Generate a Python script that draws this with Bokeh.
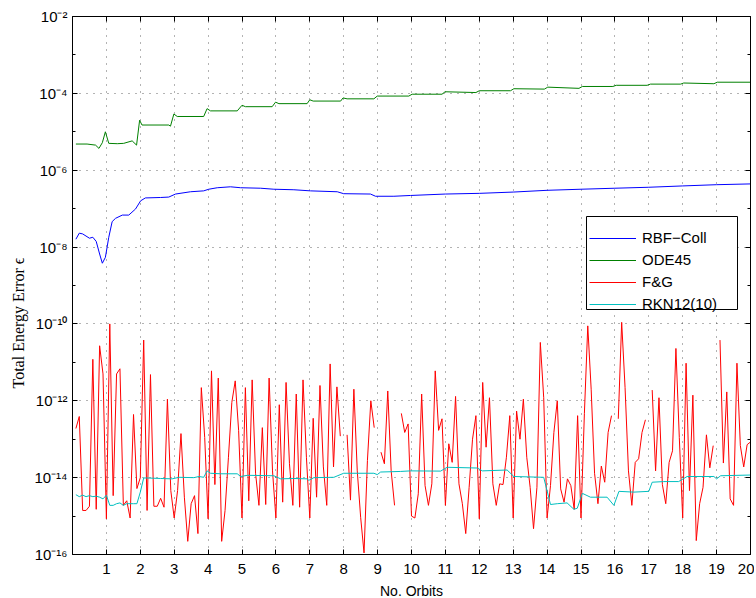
import math
from bokeh.plotting import figure
from bokeh.models import (LogAxis, LinearAxis, FixedTicker, Legend, LegendItem,
                          CustomJSTickFormatter, Title, BoxAnnotation)
from bokeh.embed import file_html
from bokeh.resources import INLINE

nan = float("nan")

# ---------------- data ----------------
x_ticks = list(range(1, 21))
y_major = [1e-16, 1e-14, 1e-12, 1e-10, 1e-8, 1e-6, 1e-4, 1e-2]
y_minor = [1e-15, 1e-13, 1e-11, 1e-9, 1e-7, 1e-5, 1e-3]

rbf_x = [0.1, 0.2, 0.3, 0.5, 0.6, 0.7, 0.8, 0.88, 0.97, 1.07, 1.17, 1.27, 1.47, 1.66,
         1.86, 2.01, 2.15, 2.6, 2.84, 3.04, 3.48, 3.87, 4.02, 4.27, 4.66, 4.96, 5.55,
         5.94, 6.53, 7.02, 7.81, 8.0, 8.79, 8.94, 9.48, 9.97, 11, 12, 13, 14, 15, 16,
         17, 18, 19, 20]
rbf_y = [1.6e-8, 2.3e-8, 2.2e-8, 1.7e-8, 1.8e-8, 1.4e-8, 6.6e-9, 3.8e-9, 5.4e-9, 1.8e-8,
         4.6e-8, 5.6e-8, 6.8e-8, 6.8e-8, 9.8e-8, 1.6e-7, 1.9e-7, 1.95e-7, 2.0e-7, 2.4e-7,
         2.75e-7, 2.9e-7, 3.2e-7, 3.5e-7, 3.7e-7, 3.5e-7, 3.4e-7, 3.2e-7, 3.1e-7, 2.9e-7,
         2.75e-7, 2.45e-7, 2.4e-7, 2.1e-7, 2.1e-7, 2.2e-7, 2.4e-7, 2.5e-7, 2.7e-7, 3.0e-7,
         3.2e-7, 3.4e-7, 3.6e-7, 3.9e-7, 4.2e-7, 4.4e-7]

ode_x = [0.1, 0.43, 0.68, 0.78, 0.88, 0.97, 1.07, 1.32, 1.51, 1.76, 1.89, 1.98, 2.05,
         2.84, 2.89, 2.99, 3.09, 3.87, 3.97, 4.07, 4.86, 5.0, 5.1, 5.89, 5.99, 6.09, 6.92,
         7.0, 7.1, 7.91, 7.98, 8.1, 8.89, 8.99, 9.92, 10.02, 10.9, 10.99, 11.9, 12.0,
         12.92, 13.02, 13.92, 14.02, 14.94, 15.04, 15.94, 16.04, 16.95, 17.05, 17.94,
         18.03, 18.92, 19.02, 20.0]
ode_y = [4.8e-6, 4.8e-6, 4.5e-6, 3.7e-6, 5.2e-6, 1.0e-5, 5.0e-6, 4.9e-6, 5.0e-6, 5.8e-6,
         4.5e-6, 2.0e-5, 1.5e-5, 1.5e-5, 1.4e-5, 2.9e-5, 2.5e-5, 2.5e-5, 4.0e-5, 3.5e-5,
         3.5e-5, 4.9e-5, 4.5e-5, 4.5e-5, 5.9e-5, 5.4e-5, 5.4e-5, 6.8e-5, 6.3e-5, 6.3e-5,
         7.6e-5, 7.2e-5, 7.2e-5, 8.5e-5, 8.5e-5, 9.5e-5, 9.5e-5, 1.1e-4, 1.05e-4, 1.17e-4,
         1.17e-4, 1.32e-4, 1.29e-4, 1.45e-4, 1.35e-4, 1.51e-4, 1.51e-4, 1.62e-4, 1.62e-4,
         1.74e-4, 1.74e-4, 1.86e-4, 1.78e-4, 1.95e-4, 1.95e-4]

fg_x = [round(0.1 * k, 1) for k in range(1, 201)]
fg_y = [
    1.9e-13, 3.9e-13, 1.4e-15, 1.4e-15, 1.8e-15, 1.2e-11, 1.5e-15, 2.7e-11, 5.0e-12, 8.5e-16,
    1.0e-10, 3.4e-15, 5.0e-12, 6.8e-12, 1.9e-15, 2.5e-15, 8.9e-16, 4.4e-13, 5.2e-15, 1.0e-14,
    3.8e-11, 1.4e-15, 4.8e-12, 1.8e-15, 1.8e-15, 2.9e-15, 1.7e-15, 1.1e-12, 4.6e-15, 8.9e-16,
    4.6e-15, 1.4e-13, 3.1e-15, 2.2e-16, 2.1e-15, 3.4e-15, 3.5e-16, 2.2e-12, 1.1e-13, 8.5e-16,
    6.0e-12, 6.6e-15, 3.9e-12, 2.2e-16, 1.4e-15, 3.4e-14, 9.1e-13, 3.3e-12, 1.7e-13, 8.9e-16,
    2.2e-12, 2.5e-15, 3.5e-12, 1.3e-14, 1.9e-15, 2.0e-13, 2.0e-15, 3.9e-12, 1.5e-14, 8.9e-16,
    7.9e-13, 2.3e-15, 3.0e-12, 2.3e-14, 1.9e-15, 1.5e-12, 1.7e-15, 3.5e-12, 3.4e-14, 8.9e-16,
    3.5e-13, 3.1e-15, 2.5e-12, 1.9e-14, 1.9e-15, 9.1e-12, 1.9e-14, 2.3e-12, 1.2e-13, nan,
    1.3e-13, 2.6e-15, 2.0e-12, 1.5e-14, 9.3e-16, 1.1e-16, 2.8e-14, 1.0e-12, 2.0e-13, nan,
    4.6e-14, 2.3e-14, 1.8e-12, 1.5e-14, 1.9e-15, nan, 4.7e-13, 1.5e-13, 2.5e-13, 1.0e-15,
    8.9e-16, 3.8e-15, 1.5e-12, 6.2e-15, 1.9e-15, 6.9e-15, 6.0e-12, 1.7e-13, 3.4e-13, 1.9e-15,
    7.6e-14, 2.5e-14, 1.3e-12, 6.9e-15, 2.1e-15, 3.5e-16, 5.6e-15, 1.0e-13, 4.1e-13, 8.5e-16,
    3.0e-12, 6.2e-14, 1.2e-12, 6.9e-15, 1.9e-15, 6.9e-15, 6.6e-15, 3.4e-14, 4.1e-13, 8.9e-16,
    5.4e-13, 1.0e-13, 1.1e-12, 3.4e-14, 5.6e-15, 4.7e-16, 5.6e-15, 3.3e-11, 1.2e-12, 8.9e-16,
    6.2e-15, 1.5e-13, 1.0e-12, 5.1e-15, 2.3e-15, 9.3e-15, 6.2e-15, 1.5e-15, 4.1e-13, 8.9e-16,
    4.6e-13, 8.9e-11, 2.0e-12, 1.3e-14, 2.1e-15, 2.0e-14, 7.6e-15, 1.5e-13, 4.1e-13, nan,
    3.4e-13, 1.1e-10, 2.2e-12, 1.5e-14, 1.9e-15, 2.5e-14, 3.1e-14, 1.5e-13, 3.2e-13, nan,
    1.9e-12, 1.5e-14, 1.2e-12, 6.6e-15, 2.1e-15, 2.5e-14, 5.0e-14, 2.3e-11, 1.1e-13, 8.9e-16,
    9.5e-12, 4.6e-15, 1.4e-12, 2.3e-16, 2.1e-15, 5.6e-15, 1.3e-13, 1.8e-14, 6.8e-14, nan,
    3.8e-11, 2.4e-14, 1.7e-12, 2.8e-15, 1.9e-15, 9.5e-12, 6.8e-14, 1.9e-14, 7.2e-14, 8.5e-14,
]

rkn_x = [0.1, 0.2, 0.3, 0.4, 0.5, 0.6, 0.7, 0.8, 0.9, 1.0, 1.1, 1.2, 1.3, 1.4, 1.5, 1.6,
         1.7, 1.8, 1.9, 2.0, 2.1, 2.2, 2.6, 2.94, 3.14, 3.58, 3.73, 3.87, 3.97, 4.07, 4.37,
         4.86, 4.96, 5.16, 5.94, 6.14, 6.53, 6.92, 6.97, 7.12, 7.71, 8.0, 8.89, 8.99, 9.09,
         9.68, 9.97, 10.86, 11.05, 11.94, 12.09, 12.82, 13.02, 13.9, 14.1, 14.3, 14.59,
         14.79, 14.89, 15.04, 15.28, 15.77, 15.97, 16.12, 16.56, 17.0, 17.1, 17.44, 17.88,
         18.13, 18.92, 19.0, 19.12, 20.0]
rkn_y = [3.6e-15, 3.2e-15, 3.5e-15, 3.2e-15, 3.4e-15, 3.2e-15, 3.3e-15, 3.1e-15, 2.8e-15,
         3.5e-15, 1.9e-15, 1.9e-15, 2.1e-15, 2.2e-15, 1.9e-15, 2.1e-15, 2.1e-15, 2.1e-15,
         2.1e-15, 4.2e-15, 9.8e-15, 9.8e-15, 9.5e-15, 9.3e-15, 1.02e-14, 1.0e-14, 1.07e-14,
         1.02e-14, 1.5e-14, 1.3e-14, 1.26e-14, 1.26e-14, 1.07e-14, 1.15e-14, 1.12e-14,
         9.3e-15, 9.5e-15, 9.3e-15, 8.5e-15, 1.0e-14, 1.02e-14, 1.3e-14, 1.3e-14, 1.2e-14,
         1.4e-14, 1.45e-14, 1.5e-14, 1.48e-14, 1.86e-14, 1.78e-14, 1.5e-14, 1.58e-14,
         1.07e-14, 1.02e-14, 2.0e-15, 2.1e-15, 2.2e-15, 1.5e-15, 1.6e-15, 3.9e-15, 3.1e-15,
         3.1e-15, 1.9e-15, 4.4e-15, 4.2e-15, 4.4e-15, 7.6e-15, 7.9e-15, 7.9e-15, 1.07e-14,
         1.07e-14, 9.3e-15, 1.12e-14, 1.17e-14]

series_names = ["RBF\u2212Coll", "ODE45", "F&G", "RKN12(10)"]
series_colors = ["#0000FF", "#008000", "#FF0000", "#00BFBF"]
y_title = "Total Energy Error \u03f5"
x_title = "No. Orbits"

# ---------------- figure ----------------
p = figure(frame_width=678, frame_height=538, x_range=(0, 20), y_range=(1e-16, 1e-2),
           y_axis_type="log", output_backend="svg", toolbar_location=None,
           min_border_left=72, min_border_right=4, min_border_top=16, min_border_bottom=44,
           background_fill_color="white", border_fill_color="white")
p.outline_line_color = "black"
p.outline_line_width = 1

xt = FixedTicker(ticks=x_ticks)
yt = FixedTicker(ticks=y_major, minor_ticks=y_minor)

fmt = CustomJSTickFormatter(code="""
const sup = {'-':'\u207b','0':'\u2070','1':'\u00b9','2':'\u00b2','3':'\u00b3','4':'\u2074',
             '5':'\u2075','6':'\u2076','7':'\u2077','8':'\u2078','9':'\u2079'};
const e = Math.round(Math.log10(tick));
return '10' + String(e).split('').map(c => sup[c]).join('');
""")

for ax in p.xaxis:
    ax.ticker = xt
    ax.axis_label = x_title
    ax.major_label_standoff = 9
    ax.axis_label_text_font = "Liberation Sans"
    ax.axis_label_text_font_size = "14px"
for ax in p.yaxis:
    ax.ticker = yt
    ax.formatter = fmt
    ax.major_label_standoff = 5

for ax in list(p.xaxis) + list(p.yaxis):
    ax.major_tick_in = 5
    ax.major_tick_out = 0
    ax.minor_tick_in = 3
    ax.minor_tick_out = 0
    ax.axis_line_color = "black"
    ax.major_tick_line_color = "black"
    ax.major_label_text_font = "Liberation Sans"
    ax.major_label_text_font_size = "15px"
    ax.major_label_text_color = "black"
    ax.axis_label_text_font_style = "normal"
    ax.axis_label_text_color = "black"
    ax.axis_label_standoff = 6
for ax in p.xaxis:
    ax.minor_tick_line_color = None
for ax in p.yaxis:
    ax.minor_tick_line_color = "black"

# y title in the left panel, placed a little below the axis centre like the reference
p.add_layout(Title(text=y_title, align="left", offset=166, standoff=10,
                   text_font="Liberation Serif", text_font_size="16px",
                   text_font_style="normal", text_color="black"), "left")

# mirrored tick marks on the top and right sides (no labels), like a boxed axes
blank = CustomJSTickFormatter(code="return '';")
top = LinearAxis(ticker=xt, formatter=blank, major_tick_in=5, major_tick_out=0,
                 minor_tick_line_color=None, major_label_standoff=0,
                 axis_line_color="black", major_tick_line_color="black")
p.add_layout(top, "above")
right = LogAxis(ticker=yt, formatter=blank, major_tick_in=5, major_tick_out=0,
                minor_tick_in=3, minor_tick_out=0, major_label_standoff=0,
                axis_line_color="black", major_tick_line_color="black",
                minor_tick_line_color="black")
p.add_layout(right, "right")

for g in (p.xgrid, p.ygrid):
    g.grid_line_color = "black"
    g.grid_line_alpha = 0.6
    g.grid_line_dash = "1 6"
    g.grid_line_width = 1
p.xgrid.ticker = xt
p.ygrid.ticker = yt

r1 = p.line(rbf_x, rbf_y, line_color=series_colors[0], line_width=1)
r2 = p.line(ode_x, ode_y, line_color=series_colors[1], line_width=1)
r3 = p.line(fg_x, fg_y, line_color=series_colors[2], line_width=1)
r4 = p.line(rkn_x, rkn_y, line_color=series_colors[3], line_width=1)

# legend frame (white box with black border), then the legend entries on top
p.add_layout(BoxAnnotation(left=514, right=665, bottom=245, top=338,
                           left_units="screen", right_units="screen",
                           bottom_units="screen", top_units="screen",
                           fill_color="white", fill_alpha=1.0,
                           line_color="black", line_width=1, line_alpha=1.0))

legend = Legend(items=[LegendItem(label=n, renderers=[r]) for n, r in
                       zip(series_names, [r1, r2, r3, r4])],
                location=(517, 242))
legend.border_line_color = None
legend.background_fill_alpha = 0.0
legend.label_text_font = "Liberation Sans"
legend.label_text_font_size = "15px"
legend.label_text_color = "black"
legend.glyph_width = 47
legend.glyph_height = 16
legend.label_height = 16
legend.label_standoff = 6
legend.spacing = 5
legend.padding = 6
legend.margin = 0
p.add_layout(legend)

open("out.html", "w").write(file_html(p, INLINE))
